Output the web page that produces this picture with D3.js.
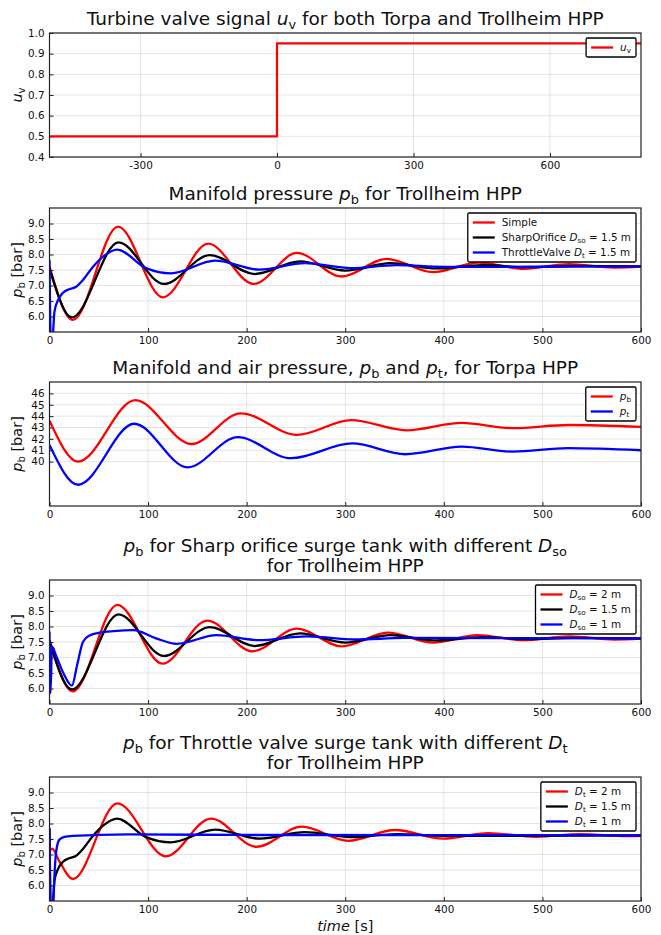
<!DOCTYPE html>
<html>
<head>
<meta charset="utf-8">
<script src="https://cdn.jsdelivr.net/npm/d3@7"></script>
<style>
  body { margin: 0; background: #fff; }
  svg { display: block; font-family: "DejaVu Sans", sans-serif; }
</style>
</head>
<body>
<div id="chart"></div>
<script>
width = 661;
height = 935;

// turbine valve signal (step at t = 0)
uvTime = [-500, 0, 800];
uvValue = [0.5, 0.95, 0.95];

// Trollheim, manifold pressure p_b [bar]
simpleTime = [0, 23.7, 69.5, 115, 161, 207, 251, 296, 342, 389, 435, 481, 527, 573, 600];
simpleP = [7.61, 5.89, 8.90, 6.62, 8.35, 7.05, 8.05, 7.29, 7.86, 7.43, 7.74, 7.54, 7.69, 7.58, 7.61];

sharp15Time = [0, 22.7, 70, 116, 162.7, 208, 254, 300, 346, 393, 439, 485, 531, 600];
sharp15P = [7.55, 5.97, 8.39, 7.05, 7.98, 7.37, 7.78, 7.48, 7.72, 7.55, 7.66, 7.59, 7.63, 7.62];

throttle15Time = [0, 1.2, 2.5, 5, 8.5, 13.5, 20, 27, 34, 44, 55, 68.5, 98, 123, 168, 213, 259, 306, 352, 400, 600];
throttle15P = [7.83, 5.3, 5.0, 6.15, 6.52, 6.76, 6.88, 6.96, 7.18, 7.6, 7.95, 8.16, 7.56, 7.39, 7.80, 7.51, 7.72, 7.56, 7.66, 7.60, 7.62];

sharp2Time = [0, 23.7, 68.8, 114.6, 160, 205.8, 251, 296.6, 343, 389, 434, 480, 527, 573, 600];
sharp2P = [7.52, 5.91, 8.70, 6.80, 8.19, 7.20, 7.93, 7.36, 7.80, 7.48, 7.72, 7.56, 7.68, 7.58, 7.61];

sharp1Time = [0, 1, 2.5, 6.8, 14, 22.7, 28, 34, 40.7, 51, 65, 85, 108, 129, 169.5, 212, 261, 310, 360, 600];
sharp1P = [7.83, 5.85, 7.35, 7.05, 6.5, 6.09, 6.75, 7.51, 7.71, 7.80, 7.85, 7.88, 7.62, 7.44, 7.72, 7.56, 7.68, 7.58, 7.63, 7.62];

throttle2Time = [0, 2.7, 10, 23.7, 68.8, 118, 163.7, 210, 256, 303, 350.6, 399.5, 445, 494, 538, 585, 600];
throttle2P = [7.10, 7.19, 6.78, 6.21, 8.65, 6.94, 8.16, 7.25, 7.90, 7.44, 7.79, 7.51, 7.69, 7.57, 7.66, 7.59, 7.60];

throttle1Time = [0, 1, 2.5, 4, 5.5, 6.8, 10, 15, 24, 80, 200, 600];
throttle1P = [7.86, 5.2, 4.9, 5.6, 6.6, 7.1, 7.48, 7.57, 7.6, 7.65, 7.63, 7.62];

// Torpa, manifold and air pressure [bar]
torpaPbTime = [0, 29, 87, 144, 194, 251, 306, 362, 418, 470, 527, 600];
torpaPb = [43.6, 40.0, 45.4, 41.55, 44.25, 42.35, 43.65, 42.75, 43.4, 42.95, 43.22, 43.06];
torpaPtTime = [0, 29, 86, 140, 191, 245, 307, 361, 418, 470, 526, 600];
torpaPt = [41.47, 37.97, 43.33, 39.5, 42.15, 40.3, 41.6, 40.65, 41.32, 40.88, 41.18, 41.0];

// ticks
uvXTicks = [-300, 0, 300, 600];
uvYTicks = [0.4, 0.5, 0.6, 0.7, 0.8, 0.9, 1.0];
timeTicks = [0, 100, 200, 300, 400, 500, 600];
trollYTicks = [6.0, 6.5, 7.0, 7.5, 8.0, 8.5, 9.0];
torpaYTicks = [40, 41, 42, 43, 44, 45, 46];

const RED = "#ff0000", BLACK = "#000000", BLUE = "#0000ff";
const zip = (xs, ys) => xs.map((x, i) => [x, ys[i]]);
const plain = d => String(d);   // keeps "-300" with a hyphen

const pbLabel = [["p", "i"], ["b", "s"], [" [bar]", ""]];

panels = [
  {
    top: 33, bottom: 157, x: [-500, 800], y: [0.4, 1.0],
    xTicks: uvXTicks, yTicks: uvYTicks, yFmt: d3.format(".1f"), step: true,
    title: [[["Turbine valve signal ", ""], ["u", "i"], ["v", "s"], [" for both Torpa and Trollheim HPP", ""]]],
    ylabel: [["u", "i"], ["v", "s"]],
    series: [
      { data: zip(uvTime, uvValue), color: RED, label: [["u", "i"], ["v", "s"]] }
    ]
  },
  {
    top: 208, bottom: 332, x: [0, 600], y: [5.5, 9.5],
    xTicks: timeTicks, yTicks: trollYTicks, yFmt: d3.format(".1f"),
    title: [[["Manifold pressure ", ""], ["p", "i"], ["b", "s"], [" for Trollheim HPP", ""]]],
    ylabel: pbLabel,
    series: [
      { data: zip(simpleTime, simpleP), color: RED, label: [["Simple", ""]] },
      { data: zip(sharp15Time, sharp15P), color: BLACK, label: [["SharpOrifice ", ""], ["D", "i"], ["so", "s"], [" = 1.5 m", ""]] },
      { data: zip(throttle15Time, throttle15P), color: BLUE, label: [["ThrottleValve ", ""], ["D", "i"], ["t", "s"], [" = 1.5 m", ""]] }
    ]
  },
  {
    top: 382, bottom: 506, x: [0, 600], y: [36.1, 47.0],
    xTicks: timeTicks, yTicks: torpaYTicks, yFmt: d3.format("d"),
    title: [[["Manifold and air pressure, ", ""], ["p", "i"], ["b", "s"], [" and ", ""], ["p", "i"], ["t", "s"], [", for Torpa HPP", ""]]],
    ylabel: pbLabel,
    series: [
      { data: zip(torpaPbTime, torpaPb), color: RED, label: [["p", "i"], ["b", "s"]] },
      { data: zip(torpaPtTime, torpaPt), color: BLUE, label: [["p", "i"], ["t", "s"]] }
    ]
  },
  {
    top: 580, bottom: 704, x: [0, 600], y: [5.5, 9.5],
    xTicks: timeTicks, yTicks: trollYTicks, yFmt: d3.format(".1f"),
    title: [
      [["p", "i"], ["b", "s"], [" for Sharp orifice surge tank with different ", ""], ["D", "i"], ["so", "s"]],
      [["for Trollheim HPP", ""]]
    ],
    ylabel: pbLabel,
    series: [
      { data: zip(sharp2Time, sharp2P), color: RED, label: [["D", "i"], ["so", "s"], [" = 2 m", ""]] },
      { data: zip(sharp15Time, sharp15P), color: BLACK, label: [["D", "i"], ["so", "s"], [" = 1.5 m", ""]] },
      { data: zip(sharp1Time, sharp1P), color: BLUE, label: [["D", "i"], ["so", "s"], [" = 1 m", ""]] }
    ]
  },
  {
    top: 777, bottom: 901, x: [0, 600], y: [5.5, 9.5],
    xTicks: timeTicks, yTicks: trollYTicks, yFmt: d3.format(".1f"),
    title: [
      [["p", "i"], ["b", "s"], [" for Throttle valve surge tank with different ", ""], ["D", "i"], ["t", "s"]],
      [["for Trollheim HPP", ""]]
    ],
    ylabel: pbLabel,
    xlabel: [["time", "i"], [" [s]", ""]],
    series: [
      { data: zip(throttle2Time, throttle2P), color: RED, label: [["D", "i"], ["t", "s"], [" = 2 m", ""]] },
      { data: zip(throttle15Time, throttle15P), color: BLACK, label: [["D", "i"], ["t", "s"], [" = 1.5 m", ""]] },
      { data: zip(throttle1Time, throttle1P), color: BLUE, label: [["D", "i"], ["t", "s"], [" = 1 m", ""]] }
    ]
  }
];

const left = 49.5, right = 641;
const TITLE = 18.5, GUIDE = 14.5, TICK = 10.4, LEG = 10.4;

// text with italic parts and upright subscripts
function rich(text, segs, size) {
  let down = false;
  segs.forEach(([s, st]) => {
    const ts = text.append("tspan").text(s);
    if (st === "s") {
      ts.attr("font-size", size * 0.7);
      if (!down) ts.attr("dy", size * 0.2);
      down = true;
    } else {
      if (down) ts.attr("dy", -size * 0.2);
      down = false;
      if (st === "i") ts.attr("font-style", "italic");
    }
  });
  return text;
}

const svg = d3.select("#chart")
  .append("svg")
  .attr("width", width)
  .attr("height", height)
  .attr("viewBox", [0, 0, width, height]);

panels.forEach((p, k) => {
  const x = d3.scaleLinear().domain(p.x).range([left, right]);
  const y = d3.scaleLinear().domain(p.y).range([p.bottom, p.top]);
  const g = svg.append("g");

  // title, line by line, last line sits just above the frame
  p.title.forEach((line, i) => {
    const base = p.top - 8 - (p.title.length - 1 - i) * 20;
    rich(g.append("text")
      .attr("x", (left + right) / 2)
      .attr("y", base)
      .attr("text-anchor", "middle")
      .attr("font-size", TITLE)
      .attr("fill", "#111"), line, TITLE);
  });

  // grid
  g.append("g")
    .selectAll("line")
    .data(p.xTicks)
    .join("line")
    .attr("x1", d => x(d)).attr("x2", d => x(d))
    .attr("y1", p.top).attr("y2", p.bottom)
    .attr("stroke", "#000").attr("stroke-opacity", 0.1);
  g.append("g")
    .selectAll("line")
    .data(p.yTicks)
    .join("line")
    .attr("x1", left).attr("x2", right)
    .attr("y1", d => y(d)).attr("y2", d => y(d))
    .attr("stroke", "#000").attr("stroke-opacity", 0.1);

  // axes
  const xAxis = g.append("g")
    .attr("transform", `translate(0,${p.bottom})`)
    .call(d3.axisBottom(x).tickValues(p.xTicks).tickFormat(plain).tickSizeInner(-4).tickSizeOuter(0).tickPadding(5));
  const yAxis = g.append("g")
    .attr("transform", `translate(${left},0)`)
    .call(d3.axisLeft(y).tickValues(p.yTicks).tickFormat(p.yFmt).tickSizeInner(-4).tickSizeOuter(0).tickPadding(5));
  [xAxis, yAxis].forEach(a => {
    a.select(".domain").remove();
    a.selectAll(".tick line").attr("stroke", "#222");
    a.selectAll(".tick text")
      .attr("font-family", "DejaVu Sans, sans-serif")
      .attr("font-size", TICK)
      .attr("fill", "#111");
  });

  // curves
  const clipId = "clip" + k;
  g.append("clipPath").attr("id", clipId)
    .append("rect")
    .attr("x", left).attr("y", p.top)
    .attr("width", right - left).attr("height", p.bottom - p.top);

  const line = d3.line()
    .x(d => x(d[0]))
    .y(d => y(d[1]))
    .curve(p.step ? d3.curveStepAfter : d3.curveMonotoneX);

  g.append("g")
    .attr("clip-path", `url(#${clipId})`)
    .selectAll("path")
    .data(p.series)
    .join("path")
    .attr("d", d => line(d.data))
    .attr("fill", "none")
    .attr("stroke", d => d.color)
    .attr("stroke-width", 2.3)
    .attr("stroke-linejoin", "round");

  // frame
  g.append("rect")
    .attr("x", left).attr("y", p.top)
    .attr("width", right - left).attr("height", p.bottom - p.top)
    .attr("fill", "none")
    .attr("stroke", "#222")
    .attr("stroke-width", 1.2);

  // y label
  rich(g.append("text")
    .attr("transform", `translate(22,${(p.top + p.bottom) / 2}) rotate(-90)`)
    .attr("text-anchor", "middle")
    .attr("font-size", GUIDE)
    .attr("fill", "#111"), p.ylabel, GUIDE);

  if (p.xlabel) {
    rich(g.append("text")
      .attr("x", (left + right) / 2)
      .attr("y", p.bottom + 30)
      .attr("text-anchor", "middle")
      .attr("font-size", GUIDE)
      .attr("fill", "#111"), p.xlabel, GUIDE);
  }

  // legend, top right
  const leg = g.append("g");
  const box = leg.append("rect")
    .attr("fill", "#fff")
    .attr("stroke", "#000")
    .attr("stroke-width", 1.3)
    .attr("rx", 1.5);
  let maxW = 0;
  p.series.forEach((s, i) => {
    const cy = p.top + 14.5 + i * 15;
    leg.append("line")
      .attr("x1", 0).attr("x2", 22)
      .attr("y1", cy).attr("y2", cy)
      .attr("stroke", s.color)
      .attr("stroke-width", 2.3);
    const t = rich(leg.append("text")
      .attr("x", 29)
      .attr("y", cy + 3.8)
      .attr("font-size", LEG)
      .attr("fill", "#111"), s.label, LEG);
    maxW = Math.max(maxW, t.node().getComputedTextLength());
  });
  const boxW = 34 + maxW + 5;
  const bx = right - 5 - boxW;
  leg.selectAll("line").attr("transform", `translate(${bx + 5},0)`);
  leg.selectAll("text").attr("transform", `translate(${bx + 5},0)`);
  box.attr("x", bx).attr("y", p.top + 5)
    .attr("width", boxW).attr("height", p.series.length * 15 + 4);
});
</script>
</body>
</html>
